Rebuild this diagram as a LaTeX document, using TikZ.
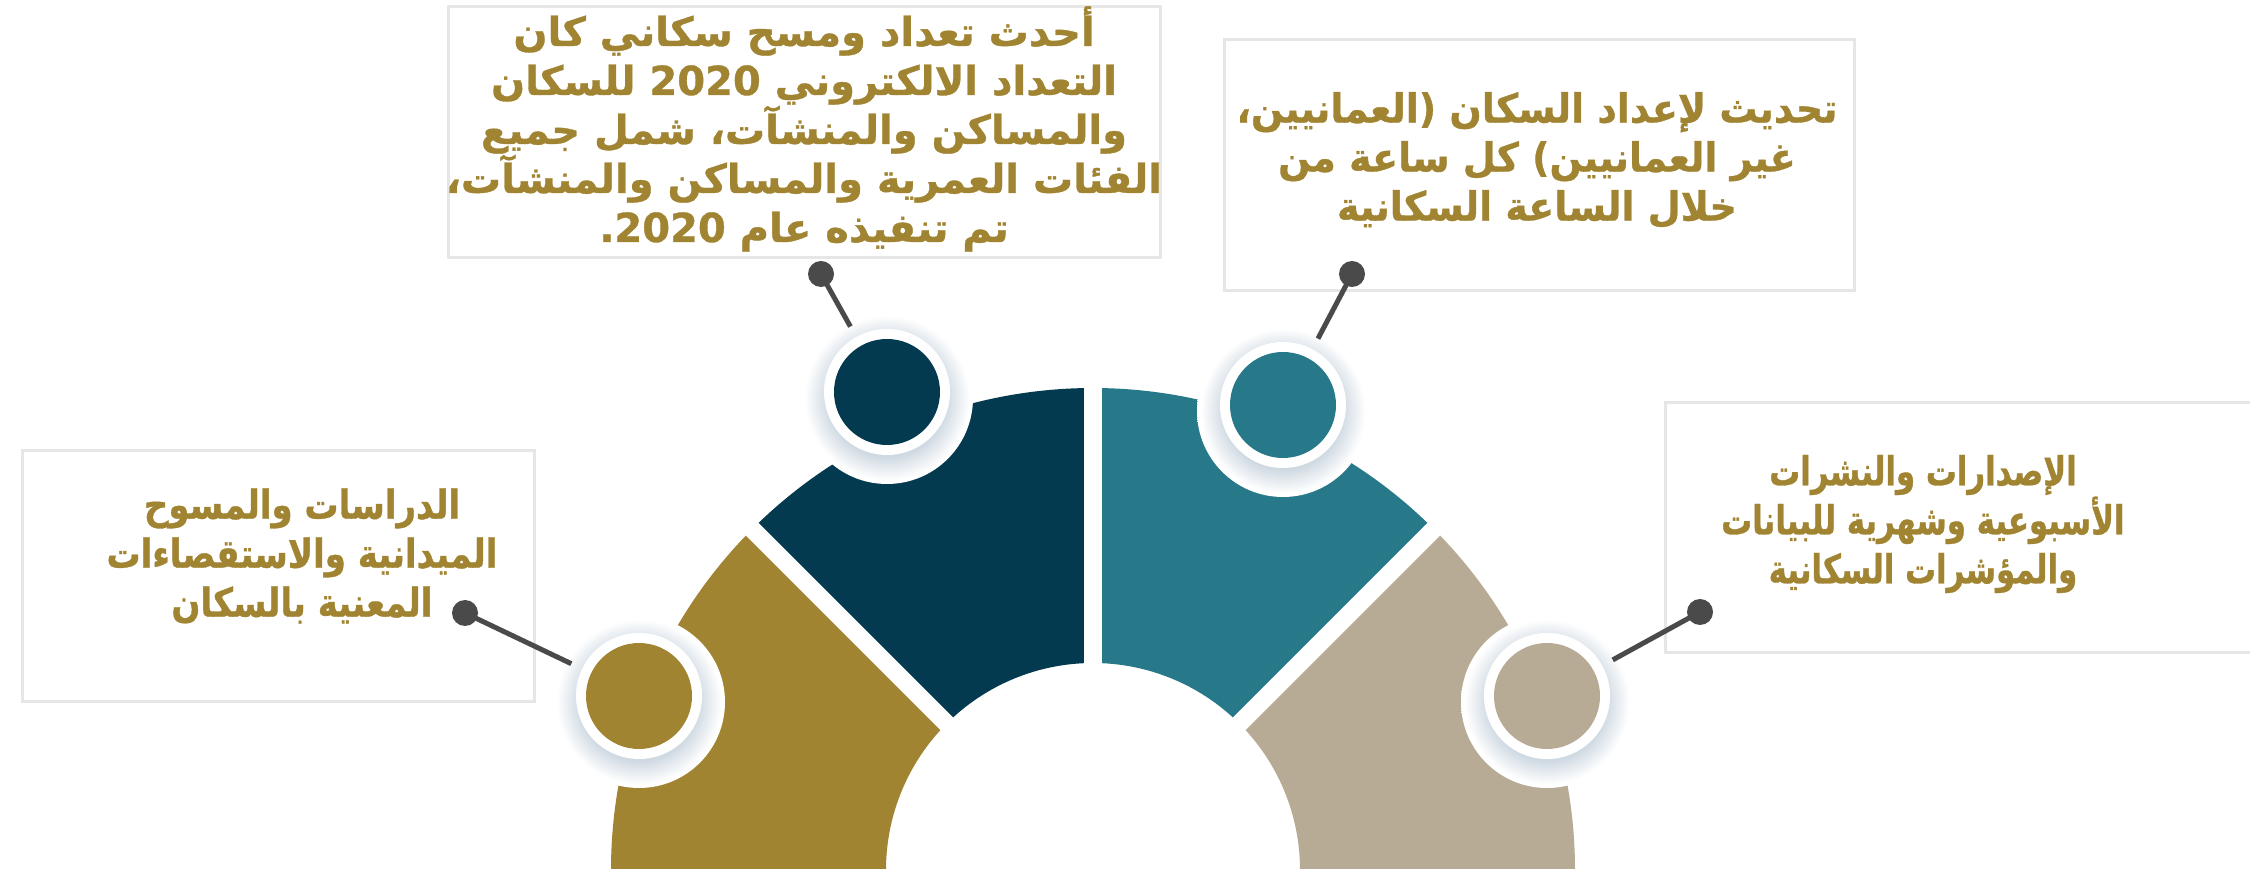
\documentclass[tikz,border=0pt]{standalone}
\usepackage{fontspec}
\newfontfamily\arA[Script=Arabic,FakeBold=0.8]{DejaVu Sans}
\newfontfamily\arB[Script=Arabic,FakeStretch=0.95,FakeBold=0.8]{DejaVu Sans}
\newfontfamily\arC[Script=Arabic,FakeStretch=0.85,FakeBold=0.8]{DejaVu Sans}
\newfontfamily\arD[Script=Arabic,FakeStretch=0.77,FakeBold=0.8]{DejaVu Sans}
\TeXXeTstate=1
\usetikzlibrary{calc}
\definecolor{cDark}{HTML}{033A4F}
\definecolor{cTeal}{HTML}{277989}
\definecolor{cGold}{HTML}{A08432}
\definecolor{cBeige}{HTML}{B7AB95}
\definecolor{cLine}{HTML}{4A4A4A}
\definecolor{cBox}{HTML}{E6E6E6}
\definecolor{cShadow}{HTML}{CFD9E2}
\pgfdeclareradialshading{bubshade}{\pgfpoint{0bp}{0bp}}{color(0bp)=(cShadow); color(17bp)=(cShadow); color(24bp)=(white); color(50bp)=(white)}
\newcommand{\arl}[1]{\beginR#1\endR}
\begin{document}
\begin{tikzpicture}[x=0.5pt,y=0.5pt,
  infobox/.style={draw=cBox, line width=1.5pt, fill=white, inner sep=0pt},
  infotext/.style={text=cGold, font=\bfseries\fontsize{20}{24.5}\selectfont, align=center, inner sep=0pt},
  ring/.style={circle, fill=white, minimum size=63pt, inner sep=0pt, outer sep=6pt},
  core/.style={circle, minimum size=53pt, inner sep=0pt},
  dot/.style={circle, fill=cLine, minimum size=13pt, inner sep=0pt},
  conn/.style={cLine, line width=2.5pt},
  gapline/.style={white, line width=9pt}]
\useasboundingbox (0,0) rectangle (2250,868);
\clip (0,0) rectangle (2250,868);
\fill[white] (0,0) rectangle (2250,868);
% boxes
\node[infobox, minimum width=356pt, minimum height=125.5pt] (box1) at (804,735.5) {};
\node[infobox, minimum width=315pt, minimum height=125.5pt] (box2) at (1539,702.5) {};
\node[infobox, minimum width=256pt, minimum height=125.5pt] (box3) at (278,291.5) {};
\node[infobox, minimum width=310pt, minimum height=125pt] (box4) at (1975,340) {};
% segments
\coordinate (C) at (1093,-2);
\fill[cBeige] ($(C)+(0:207)$) -- ($(C)+(0:482)$) arc[start angle=0,end angle=45,radius=482] -- ($(C)+(45:207)$) arc[start angle=45,end angle=0,radius=207] -- cycle;
\fill[cTeal] ($(C)+(45:207)$) -- ($(C)+(45:482)$) arc[start angle=45,end angle=90,radius=482] -- ($(C)+(90:207)$) arc[start angle=90,end angle=45,radius=207] -- cycle;
\fill[cDark] ($(C)+(90:207)$) -- ($(C)+(90:482)$) arc[start angle=90,end angle=135,radius=482] -- ($(C)+(135:207)$) arc[start angle=135,end angle=90,radius=207] -- cycle;
\fill[cGold] ($(C)+(135:207)$) -- ($(C)+(135:482)$) arc[start angle=135,end angle=180,radius=482] -- ($(C)+(180:207)$) arc[start angle=180,end angle=135,radius=207] -- cycle;
\draw[gapline] (C) -- ++(45:520);
\draw[gapline] (C) -- ++(90:520);
\draw[gapline] (C) -- ++(135:520);
% bubbles
\shade[shading=bubshade] (887,470) circle[radius=86];
\shade[shading=bubshade] (1283,457) circle[radius=86];
\shade[shading=bubshade] (639,166) circle[radius=86];
\shade[shading=bubshade] (1547,166) circle[radius=86];
\node[ring] (r1) at (887,476) {};
\node[ring] (r2) at (1283,463) {};
\node[ring] (r3) at (639,172) {};
\node[ring] (r4) at (1547,172) {};
\node[core, fill=cDark] (b1) at (r1.center) {};
\node[core, fill=cTeal] (b2) at (r2.center) {};
\node[core, fill=cGold] (b3) at (r3.center) {};
\node[core, fill=cBeige] (b4) at (r4.center) {};
% connectors
\node[dot] (d1) at (821,594) {};
\node[dot] (d2) at (1352,594) {};
\node[dot] (d3) at (465,255) {};
\node[dot] (d4) at (1700,256) {};
\draw[conn] (d1.center) -- (r1);
\draw[conn] (d2.center) -- (r2);
\draw[conn] (d3.center) -- (r3);
\draw[conn] (d4.center) -- (r4);
% texts
\node[infotext] (t1) at (804,739) {\arA\bfseries\arl{أحدث تعداد ومسح سكاني كان}\\\arA\bfseries\arl{التعداد الالكتروني \beginL2020\endL{} للسكان}\\\arA\bfseries\arl{والمساكن والمنشآت، شمل جميع}\\\arA\bfseries\arl{الفئات العمرية والمساكن والمنشآت،}\\\arA\bfseries\arl{تم تنفيذه عام \beginL2020\endL.}};
\node[infotext] (t2) at (1537,708) {\arB\bfseries\arl{تحديث لإعداد السكان (العمانيين،}\\\arB\bfseries\arl{غير العمانيين) كل ساعة من}\\\arB\bfseries\arl{خلال الساعة السكانية}};
\node[infotext] (t3) at (302,312) {\arC\bfseries\arl{الدراسات والمسوح}\\\arC\bfseries\arl{الميدانية والاستقصاءات}\\\arC\bfseries\arl{المعنية بالسكان}};
\node[infotext] (t4) at (1923,344) {\arD\bfseries\arl{الإصدارات والنشرات}\\\arD\bfseries\arl{الأسبوعية وشهرية للبيانات}\\\arD\bfseries\arl{والمؤشرات السكانية}};
\end{tikzpicture}
\end{document}
